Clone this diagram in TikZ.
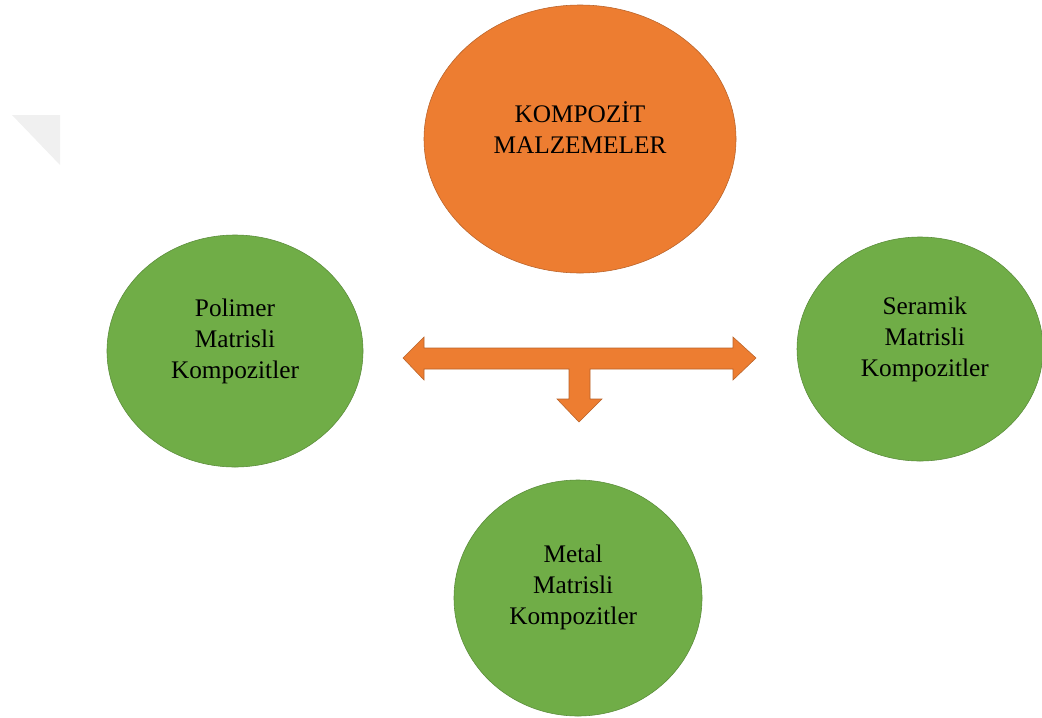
\documentclass[tikz,border=0pt]{standalone}
\usepackage{fontspec}
\setmainfont{Liberation Serif}
\usepackage{tikz}
\usetikzlibrary{shapes}
\definecolor{kOrange}{HTML}{ED7D31}
\definecolor{kOrangeDark}{HTML}{B8632A}
\definecolor{kGreen}{HTML}{70AD47}
\definecolor{kGreenDark}{HTML}{5A8C3A}

\begin{document}
\begin{tikzpicture}[x=0.25mm, y=-0.25mm, semithick]
\tikzstyle{blob}=[ellipse, draw, thin, inner sep=0pt, outer sep=0pt]
\tikzstyle{txt}=[align=center, inner sep=0pt, font=\fontsize{18}{22}\selectfont, text=black]
\useasboundingbox (0,0) rectangle (1042,717);

% faint corner
\fill[gray!12] (12,115) -- (60,115) -- (60,165) -- cycle;

% circles
\node[blob, fill=kOrange, draw=kOrangeDark, minimum width=78mm, minimum height=67mm]   (K) at (580,139) {};
\node[blob, fill=kGreen, draw=kGreenDark, minimum width=64mm, minimum height=58mm]     (P) at (235,351) {};
\node[blob, fill=kGreen, draw=kGreenDark, minimum width=61.5mm, minimum height=56mm]   (S) at (920,349) {};
\node[blob, fill=kGreen, draw=kGreenDark, minimum width=62mm, minimum height=59mm]     (M) at (578,598) {};

% texts
\node[txt]   (Kt) at ([yshift=2.8mm]K.center)    {KOMPOZİT\\MALZEMELER};
\node[txt]   (Pt) at ([yshift=2.5mm]P.center)    {Polimer\\Matrisli\\Kompozitler};
\node[txt]   (St) at ([xshift=1.2mm, yshift=2.3mm]S.center)  {Seramik\\Matrisli\\Kompozitler};
\node[txt]   (Mt) at ([xshift=-1.2mm, yshift=2.7mm]M.center) {Metal\\Matrisli\\Kompozitler};

% block arrow
\coordinate (T) at (579,358);
\filldraw[fill=kOrange, draw=kOrangeDark, thin]
  (403,358) -- (424,337) -- (424,348) -- (733,348) -- (733,337) -- (756,358)
  -- (733,380) -- (733,369) -- (590,369) -- (590,399) -- (602,399) -- (579,422)
  -- (557,399) -- (569,399) -- (569,369) -- (424,369) -- (424,380) -- cycle;

\end{tikzpicture}
\end{document}
